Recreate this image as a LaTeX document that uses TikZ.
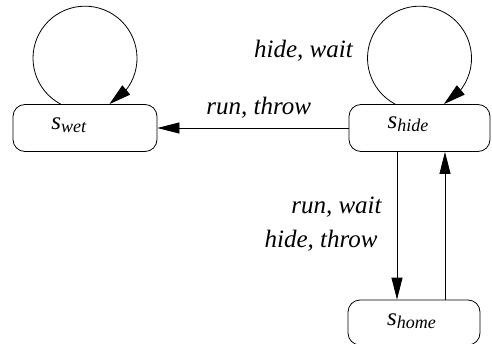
\documentclass[tikz,border=0pt]{standalone}
\usepackage{fontspec}
\setmainfont{Liberation Serif}
\usetikzlibrary{arrows.meta,bending}
\newcommand\stname[2]{\textit{#1}\raisebox{-3pt}{\fontsize{18}{20}\selectfont\textit{#2}}}
\begin{document}
\begin{tikzpicture}[x=1pt,y=1pt, line width=0.8pt,
 box/.style={draw, rounded corners=12pt, inner sep=0pt},
 stlab/.style={font=\fontsize{25}{30}\selectfont, inner sep=0pt, anchor=base},
 lab/.style={font=\fontsize{25}{30}\selectfont\itshape, inner sep=0pt},
 arr/.style={-{Triangle[length=22pt,width=11pt]}},
 looparr/.style={-{Triangle[length=22pt,width=12pt,flex]}}]
\useasboundingbox (0,0) rectangle (492,343);
% boxes
\node[box, minimum width=144pt, minimum height=47pt] (wet) at (85,215) {};
\node[box, minimum width=141pt, minimum height=47pt] (hide) at (419.5,215) {};
\node[box, minimum width=132pt, minimum height=45pt] (home) at (414,20.5) {};
% state texts
\node[stlab] (wett) at ([xshift=-16pt,yshift=-2pt]wet.center) {\stname{s}{wet}};
\node[stlab] (hidet) at ([xshift=-11.5pt,yshift=-1pt]hide.center) {\stname{s}{hide}};
\node[stlab] (homet) at ([xshift=-2.5pt,yshift=-3pt]home.center) {\stname{s}{home}};
% loops
\draw[looparr] ([xshift=-24.4pt]wet.north) arc[start angle=242, end angle=-62, radius=52];
\draw[looparr] ([xshift=-24.4pt]hide.north) arc[start angle=242, end angle=-62, radius=52];
% horizontal
\draw[arr] (hide.west) -- node[lab, pos=0.47, anchor=base, yshift=13pt] (l1) {run, throw} (wet.east);
% verticals
\draw[arr] ([xshift=-22.5pt]hide.south) -- ([xshift=-22.5pt]hide.south |- home.north) coordinate (dn);
\draw[arr] ([xshift=25.5pt]hide.south |- home.north) -- ([xshift=25.5pt]hide.south);
% labels
\node[lab, anchor=base] (l2) at ([xshift=-116pt,yshift=70pt]hide.center) {hide, wait};
\node[lab, anchor=base east] (l3) at (382,130) {run, wait};
\node[lab, anchor=base east] (l4) at (378,96) {hide, throw};
\end{tikzpicture}
\end{document}
